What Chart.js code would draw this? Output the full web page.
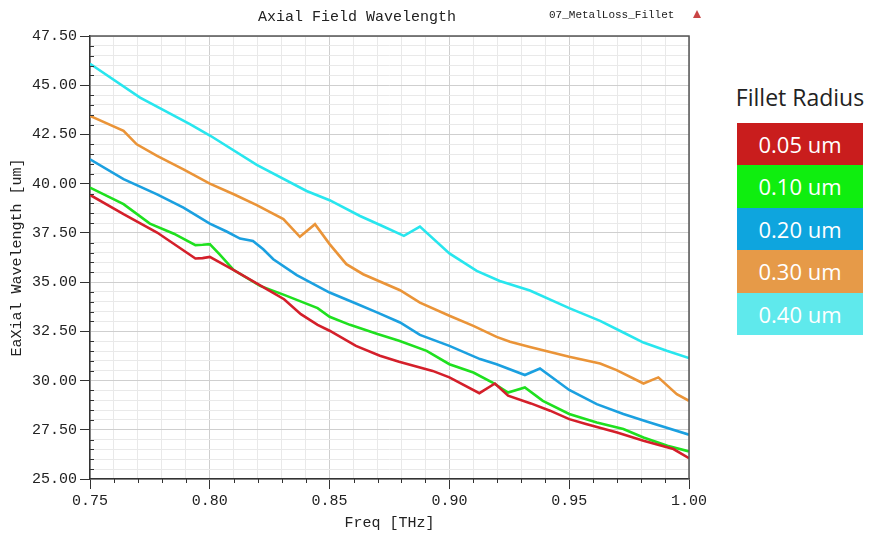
<!DOCTYPE html>
<html>
<head>
<meta charset="utf-8">
<script src="https://cdn.jsdelivr.net/npm/chart.js@4/dist/chart.umd.min.js"></script>
<style>
  html, body { margin: 0; padding: 0; background: #fff; }
  body { width: 870px; height: 535px; position: relative; overflow: hidden; }
  #plot { position: absolute; left: 0; top: 0; }
  .mono { font-family: "Liberation Mono", monospace; color: #222; position: absolute; white-space: nowrap; }
  #title { left: 357px; top: 9px; font-size: 15px; transform: translateX(-50%); }
  #design { left: 549px; top: 9px; font-size: 11px; }
  #marker { position: absolute; left: 693px; top: 10px; width: 0; height: 0;
            border-left: 4px solid transparent; border-right: 4px solid transparent;
            border-bottom: 8px solid #c94545; }
  #legend { position: absolute; left: 737px; top: 80px; width: 126px; font-family: "Open Sans", sans-serif; }
  #legend .head { font-size: 23px; color: #222; text-align: center; margin-left: -8px; width: 142px; height: 43px; line-height: 34px; }
  #legend .item { height: 42.4px; line-height: 42px; color: #fff; font-size: 22px; text-align: center; }
</style>
</head>
<body>
<canvas id="plot" width="720" height="535"></canvas>
<div id="title" class="mono">Axial Field Wavelength</div>
<div id="design" class="mono">07_MetalLoss_Fillet</div>
<div id="marker"></div>
<div id="legend"><div class="head">Fillet Radius</div></div>
<script>
// Fillet radius sweep: axial wavelength [um] versus frequency [THz]
const seriesLabels = ['0.05 um', '0.10 um', '0.20 um', '0.30 um', '0.40 um'];
const lineColors   = ['#d41f2a', '#1fe01f', '#1ba0e0', '#ea9438', '#28e6ee'];
const legendColors = ['#c91d1d', '#0fee0f', '#0ea5de', '#e69a48', '#5fe9ec'];

const freqR05 = [0.750, 0.764, 0.778, 0.794, 0.797, 0.800, 0.810, 0.825, 0.831, 0.838, 0.845, 0.850, 0.861, 0.871, 0.879, 0.893, 0.900, 0.9125, 0.919, 0.9245, 0.934, 0.942, 0.950, 0.957, 0.970, 0.981, 0.9935, 1.000];
const waveR05 = [39.43, 38.45, 37.52, 36.20, 36.22, 36.28, 35.61, 34.56, 34.13, 33.37, 32.83, 32.53, 31.76, 31.26, 30.95, 30.49, 30.16, 29.36, 29.85, 29.23, 28.84, 28.47, 28.04, 27.79, 27.36, 26.94, 26.52, 26.06];

const freqR10 = [0.750, 0.764, 0.775, 0.785, 0.794, 0.797, 0.800, 0.804, 0.810, 0.821, 0.831, 0.845, 0.850, 0.8585, 0.870, 0.879, 0.8905, 0.900, 0.910, 0.918, 0.9245, 0.9315, 0.939, 0.950, 0.9615, 0.9726, 0.981, 0.991, 1.000];
const waveR10 = [39.80, 38.96, 37.97, 37.46, 36.88, 36.90, 36.93, 36.42, 35.61, 34.81, 34.35, 33.68, 33.24, 32.83, 32.36, 32.02, 31.51, 30.83, 30.41, 29.90, 29.39, 29.65, 28.97, 28.30, 27.87, 27.54, 27.11, 26.69, 26.40];

const freqR20 = [0.750, 0.764, 0.778, 0.789, 0.800, 0.807, 0.8126, 0.818, 0.8223, 0.8265, 0.8363, 0.850, 0.861, 0.870, 0.8794, 0.8877, 0.900, 0.9128, 0.9197, 0.9315, 0.9378, 0.950, 0.9615, 0.9726, 0.9823, 1.000];
const waveR20 = [41.24, 40.23, 39.46, 38.78, 37.97, 37.57, 37.21, 37.09, 36.67, 36.16, 35.36, 34.47, 33.91, 33.45, 32.95, 32.32, 31.76, 31.09, 30.83, 30.28, 30.61, 29.52, 28.80, 28.30, 27.92, 27.25];

const freqR30 = [0.750, 0.764, 0.7695, 0.778, 0.789, 0.800, 0.810, 0.8196, 0.8307, 0.8376, 0.8439, 0.850, 0.857, 0.864, 0.8794, 0.8877, 0.900, 0.910, 0.9197, 0.9253, 0.9336, 0.950, 0.9629, 0.9698, 0.981, 0.9872, 0.9949, 1.000];
const waveR30 = [43.44, 42.68, 42.00, 41.41, 40.73, 40.00, 39.46, 38.91, 38.20, 37.30, 37.94, 36.93, 35.91, 35.40, 34.59, 33.96, 33.29, 32.78, 32.22, 31.97, 31.71, 31.21, 30.87, 30.53, 29.85, 30.16, 29.31, 28.97];

const freqR40 = [0.750, 0.7709, 0.7917, 0.8004, 0.8196, 0.8404, 0.850, 0.8627, 0.872, 0.881, 0.8877, 0.900, 0.9114, 0.921, 0.9336, 0.950, 0.9629, 0.9726, 0.981, 0.9907, 1.000];
const waveR40 = [46.09, 44.37, 43.02, 42.42, 40.95, 39.63, 39.16, 38.36, 37.85, 37.35, 37.82, 36.46, 35.57, 35.06, 34.57, 33.68, 33.03, 32.44, 31.93, 31.51, 31.14];

const freqs = [freqR05, freqR10, freqR20, freqR30, freqR40];
const waves = [waveR05, waveR10, waveR20, waveR30, waveR40];

// Axis ranges and tick spacing
const freqMin = 0.75, freqMax = 1.00, freqMinorStep = 0.01, freqMajorStep = 0.05;
const waveMin = 25, waveMax = 47.5, waveMinorStep = 0.5, waveMajorStep = 2.5;

const isMajor = (v, step) => Math.abs(v / step - Math.round(v / step)) < 1e-6;

const AXIS_FONT = { family: 'Liberation Mono', size: 15 };
const PLOT_LEFT = 90, PLOT_TOP = 36, PLOT_RIGHT = 689, PLOT_BOTTOM = 479;

// Legend blocks
const legendBox = document.getElementById('legend');
seriesLabels.forEach((lab, i) => {
  const d = document.createElement('div');
  d.className = 'item';
  d.style.background = legendColors[i];
  d.textContent = lab;
  legendBox.appendChild(d);
});

// Short minor tick marks and the top/right frame
const frameAndMinorTicks = {
  id: 'frameAndMinorTicks',
  afterDraw(chart) {
    const { ctx, chartArea: a, scales } = chart;
    ctx.save();
    ctx.strokeStyle = '#333';
    ctx.lineWidth = 1;
    ctx.beginPath();
    scales.x.ticks.forEach(t => {
      if (isMajor(t.value, freqMajorStep)) return;
      const px = Math.round(scales.x.getPixelForValue(t.value)) + 0.5;
      ctx.moveTo(px, a.bottom); ctx.lineTo(px, a.bottom + 4);
    });
    scales.y.ticks.forEach(t => {
      if (isMajor(t.value, waveMajorStep)) return;
      const py = Math.round(scales.y.getPixelForValue(t.value)) + 0.5;
      ctx.moveTo(a.left, py); ctx.lineTo(a.left + 4, py);
    });
    ctx.stroke();
    ctx.strokeStyle = '#555';
    ctx.lineWidth = 1.5;
    ctx.beginPath();
    ctx.moveTo(a.left, a.top); ctx.lineTo(a.right, a.top); ctx.lineTo(a.right, a.bottom);
    ctx.stroke();
    ctx.restore();
  }
};

const datasets = seriesLabels.map((lab, i) => ({
  label: lab,
  data: freqs[i].map((f, k) => ({ x: f, y: waves[i][k] })),
  borderColor: lineColors[i],
  backgroundColor: lineColors[i],
  borderWidth: 2.6,
  pointRadius: 0,
  tension: 0,
  fill: false
}));

new Chart(document.getElementById('plot'), {
  type: 'line',
  data: { datasets },
  plugins: [frameAndMinorTicks],
  options: {
    responsive: false,
    animation: false,
    devicePixelRatio: 1,
    layout: { padding: { left: 0, top: PLOT_TOP, right: 720 - PLOT_RIGHT, bottom: 0 } },
    plugins: { legend: { display: false }, tooltip: { enabled: false } },
    scales: {
      x: {
        type: 'linear',
        min: freqMin, max: freqMax,
        afterFit(s) { s.height = 535 - PLOT_BOTTOM; },
        ticks: {
          stepSize: freqMinorStep,
          autoSkip: false, maxRotation: 0, minRotation: 0,
          padding: 3,
          font: AXIS_FONT, color: '#222',
          callback: v => isMajor(v, freqMajorStep) ? v.toFixed(2) : ''
        },
        grid: {
          color: c => isMajor(c.tick.value, freqMajorStep) ? '#cfcfcf' : '#e9e9e9',
          tickColor: c => isMajor(c.tick.value, freqMajorStep) ? '#333' : 'rgba(0,0,0,0)',
          tickLength: 10, lineWidth: 1
        },
        border: { color: '#333', width: 1.5 },
        title: { display: true, text: 'Freq [THz]', font: AXIS_FONT, color: '#222', padding: { top: 0, bottom: 3 } }
      },
      y: {
        type: 'linear',
        min: waveMin, max: waveMax,
        afterFit(s) { s.width = PLOT_LEFT; },
        ticks: {
          stepSize: waveMinorStep,
          autoSkip: false,
          padding: 3,
          font: AXIS_FONT, color: '#222',
          callback: v => isMajor(v, waveMajorStep) ? v.toFixed(2) : ''
        },
        grid: {
          color: c => isMajor(c.tick.value, waveMajorStep) ? '#cfcfcf' : '#e9e9e9',
          tickColor: c => isMajor(c.tick.value, waveMajorStep) ? '#333' : 'rgba(0,0,0,0)',
          tickLength: 10, lineWidth: 1
        },
        border: { color: '#333', width: 1.5 },
        title: { display: true, text: 'EaXial Wavelength [um]', font: AXIS_FONT, color: '#222', padding: { top: 8, bottom: 0 } }
      }
    }
  }
});
</script>
</body>
</html>
